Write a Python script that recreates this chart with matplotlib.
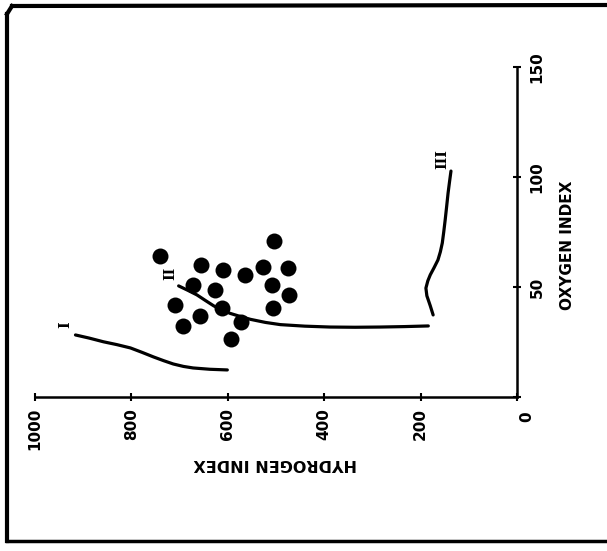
import matplotlib
matplotlib.use("Agg")
import matplotlib.pyplot as plt
from matplotlib.lines import Line2D

# Data (Hydrogen index, Oxygen index)
samples_hi = [740, 504, 656, 610, 564, 526, 475, 672, 626, 508, 472, 710, 612, 657, 507, 572, 692, 593]
samples_oi = [64, 71, 60, 57.7, 55.5, 59.2, 58.5, 51, 48.6, 51, 46.4, 41.8, 40.3, 36.8, 40.3, 34.2, 32.3, 26.2]

type1_hi = [916, 888, 858, 830, 802, 778, 754, 733, 713, 692, 672, 637, 601]
type1_oi = [28.2, 26.8, 25.1, 23.8, 22.3, 20.3, 18.2, 16.5, 15.0, 13.9, 13.2, 12.6, 12.3]

type2_hi = [702, 683, 664, 646, 629, 612, 595, 574, 553, 522, 491, 440, 388, 336, 284, 234, 184]
type2_oi = [50.5, 48.5, 46.4, 43.8, 41.4, 39.6, 38.0, 36.6, 35.3, 33.9, 32.9, 32.2, 31.8, 31.7, 31.8, 32.0, 32.3]

type3_hi = [174, 180, 187, 189, 185, 180, 172, 164, 159, 155, 152, 149, 146, 143, 140, 137]
type3_oi = [37.3, 41.5, 46.0, 49.5, 52.8, 55.5, 58.8, 62.3, 66.0, 70.0, 75.0, 80.5, 86.5, 92.7, 97.8, 102.7]

hi_ticks = [1000, 800, 600, 400, 200, 0]
hi_tick_labels = ["1000", "800", "600", "400", "200", ""]
oi_ticks = [0, 50, 100, 150]
oi_tick_labels = ["", "50", "100", "150"]
curve_labels = ["I", "II", "III"]
label_pos_hi = [937, 720, 156]
label_pos_oi = [33, 56, 108]

W, H = 607, 551
fig = plt.figure(figsize=(W / 100, H / 100), dpi=100)
fig.patch.set_facecolor("white")

ax = fig.add_axes([35 / W, 1 - 397 / H, (517 - 35) / W, (397 - 67) / H])
ax.set_xlim(1000, 0)
ax.set_ylim(0, 150)
ax.patch.set_alpha(0)

for s in ["left", "top"]:
    ax.spines[s].set_visible(False)
for s in ["bottom", "right"]:
    ax.spines[s].set_linewidth(1.8)
    ax.spines[s].set_color("black")

ax.yaxis.tick_right()
ax.set_xticks(hi_ticks)
ax.set_xticklabels(hi_tick_labels, rotation=90, fontsize=11,
                   fontweight="bold", va="top", ha="center")
ax.set_yticks(oi_ticks)
ax.set_yticklabels(oi_tick_labels, rotation=90, fontsize=11,
                   fontweight="bold", va="center", ha="left")
ax.tick_params(axis="both", direction="inout", length=6, width=1.5, pad=5)
ax.tick_params(axis="y", pad=6)

# shared origin label
fig.text(527 / W, 1 - 417 / H, "0", rotation=90, ha="center", va="center",
         fontsize=11, fontweight="bold")

# curves
for xs, ys in [(type1_hi, type1_oi), (type2_hi, type2_oi), (type3_hi, type3_oi)]:
    ax.plot(xs, ys, color="black", lw=2.3, solid_capstyle="round",
            solid_joinstyle="round")

# samples
ax.plot(samples_hi, samples_oi, "o", color="black", markersize=11.5, markeredgewidth=0)

for lab, x, y in zip(curve_labels, label_pos_hi, label_pos_oi):
    ax.text(x, y, lab, rotation=90, ha="center", va="center", fontsize=10,
            fontweight="bold", family="DejaVu Serif")

# axis titles
fig.text(275 / W, 1 - 463 / H, "HYDROGEN INDEX", rotation=180, ha="center",
         va="center", fontsize=11.5, fontweight="bold")
fig.text(568 / W, 1 - 245 / H, "OXYGEN INDEX", rotation=90, ha="center",
         va="center", fontsize=11, fontweight="bold")

# scanned page border
def fx(x):
    return x / W

def fy(y):
    return 1 - y / H

fig.add_artist(Line2D([fx(7), fx(7)], [fy(14), fy(541)], color="black", lw=3.0,
                      transform=fig.transFigure))
fig.add_artist(Line2D([fx(12), fx(607)], [fy(6), fy(5)], color="black", lw=3.0,
                      transform=fig.transFigure))
fig.add_artist(Line2D([fx(7), fx(12)], [fy(14), fy(6)], color="black", lw=3.0,
                      transform=fig.transFigure))
fig.add_artist(Line2D([fx(7), fx(607)], [fy(541), fy(541)], color="black", lw=2.5,
                      transform=fig.transFigure))

fig.savefig("out.png", dpi=100, facecolor="white")
